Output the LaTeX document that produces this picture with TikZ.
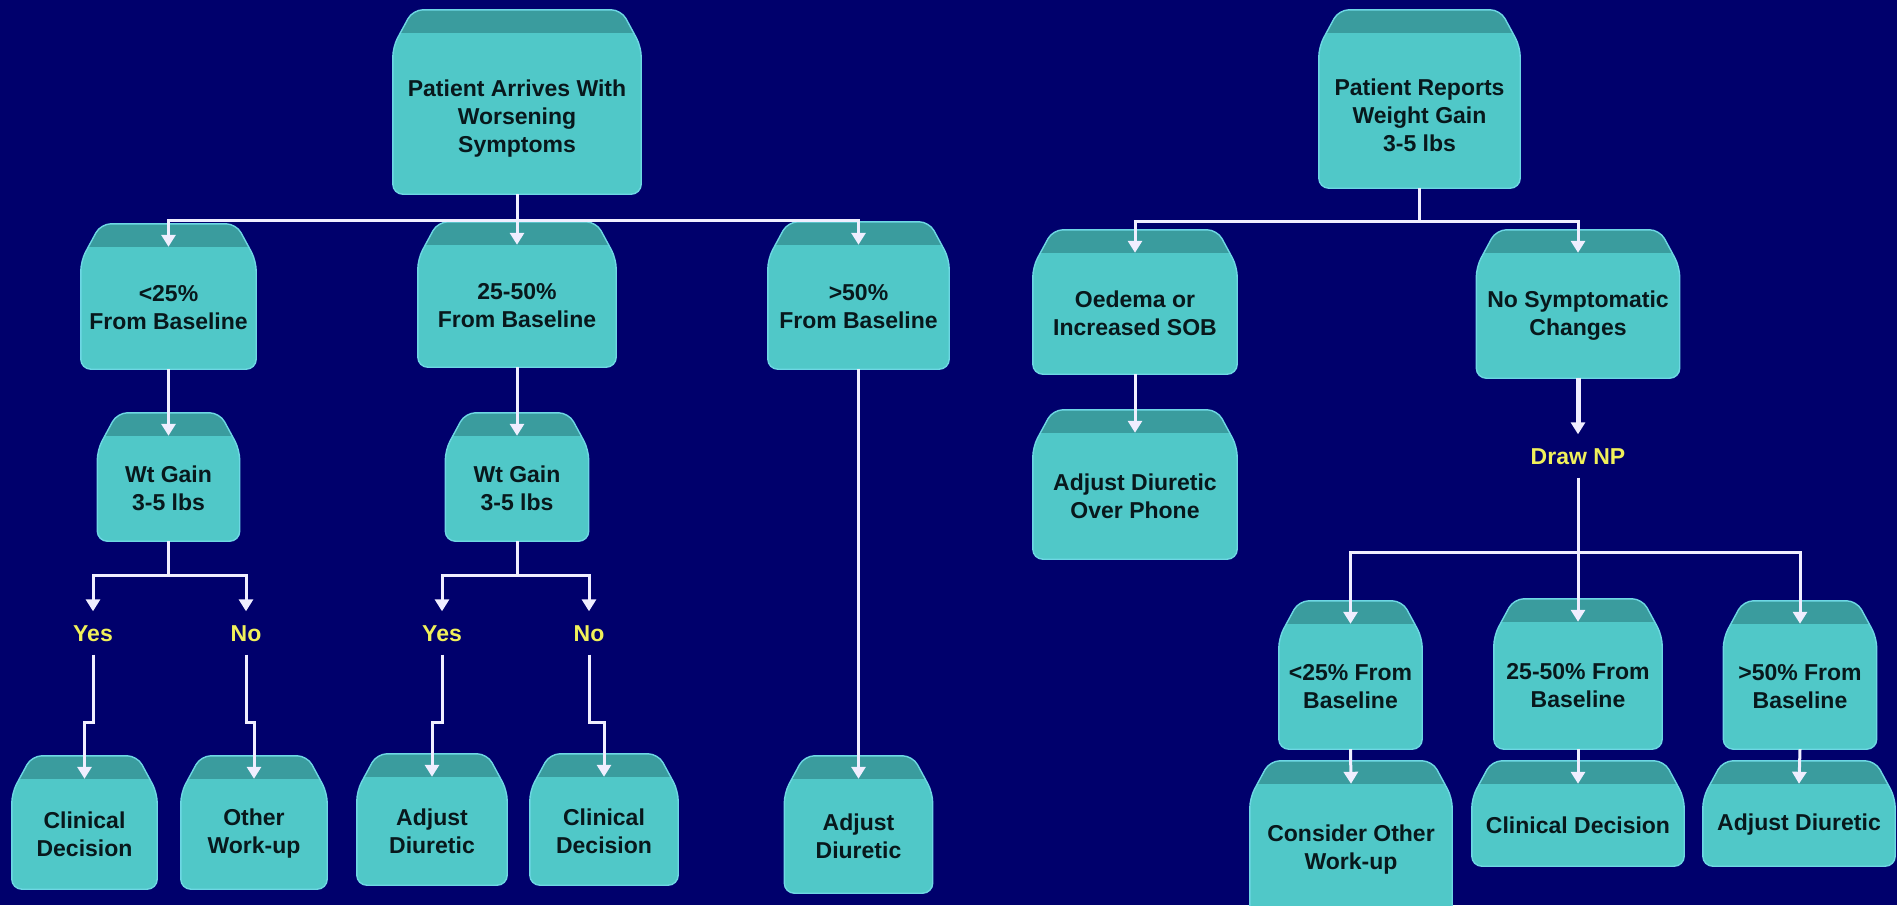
\documentclass[tikz,border=0pt]{standalone}
\usepackage{fontspec}
\setmainfont{Liberation Sans}
\usetikzlibrary{arrows.meta,calc}
\definecolor{bgnavy}{RGB}{0,0,108}
\definecolor{boxfill}{RGB}{80,200,200}
\definecolor{bandcol}{RGB}{58,156,158}
\definecolor{edgecol}{RGB}{110,215,228}
\definecolor{txtdark}{RGB}{8,24,28}
\definecolor{labyellow}{RGB}{240,240,90}
\definecolor{linecol}{RGB}{240,238,255}
\pgfdeclarelayer{bgl}\pgfdeclarelayer{boxl}\pgfsetlayers{bgl,boxl,main}
% #1 = extra space between band bottom and node top, #2 = node name
\newcommand\tealbox[2][0]{%
  \coordinate (#2-a) at ($(#2.north west)+(20pt,23pt+#1pt)$);
  \coordinate (#2-b) at ($(#2.north east)+(-20pt,23pt+#1pt)$);
  \coordinate (#2-c) at ($(#2.north east)+(0pt,#1pt-14pt)$);
  \coordinate (#2-f) at ($(#2.north west)+(0pt,#1pt-14pt)$);
  \fill[boxfill, rounded corners=10pt] (#2-a) -- (#2-b) -- (#2-c) -- (#2.south east) -- (#2.south west) -- (#2-f) -- cycle;
  \begin{scope}
    \clip[rounded corners=10pt] (#2-a) -- (#2-b) -- (#2-c) -- (#2.south east) -- (#2.south west) -- (#2-f) -- cycle;
    \fill[bandcol] ($(#2.north west)+(-5pt,#1pt)$) rectangle ($(#2.north east)+(5pt,30pt+#1pt)$);
  \end{scope}
  \draw[edgecol, line width=1.4pt, rounded corners=10pt] (#2-a) -- (#2-b) -- (#2-c) -- (#2.south east) -- (#2.south west) -- (#2-f) -- cycle;
}
\begin{document}
\begin{tikzpicture}[x=1pt,y=-1pt,
  tbox/.style={inner sep=0pt, align=center, text=txtdark,
    font=\fontsize{23}{28}\selectfont\bfseries},
  lab/.style={text=labyellow, inner xsep=2pt, inner ysep=13pt,
    text height=17pt, text depth=0pt,
    font=\fontsize{23}{28}\selectfont\bfseries},
  ln/.style={draw=linecol, line width=3pt, line join=miter},
  arr/.style={ln, -{Triangle[width=14pt,length=12pt]}}]
\begin{pgfonlayer}{bgl}
\fill[bgnavy] (0,0) rectangle (1897,905);
\end{pgfonlayer}
\useasboundingbox (0,0) rectangle (1897,905);
% left tree
\node[tbox, minimum width=248pt, minimum height=151pt] (root) at (517,118.5) {Patient Arrives With\\Worsening\\Symptoms};
\node[tbox, minimum width=175pt, minimum height=122pt] (L1) at (168.5,308) {<25\%\\From Baseline};
\node[tbox, minimum width=198pt, minimum height=122pt] (M1) at (517,306) {25-50\%\\From Baseline};
\node[tbox, minimum width=181pt, minimum height=124pt] (R1) at (858.5,307) {>50\%\\From Baseline};
\node[tbox, minimum width=142pt, minimum height=105pt] (L2) at (168.5,488.5) {Wt Gain\\3-5 lbs};
\node[tbox, minimum width=143pt, minimum height=105pt] (M2) at (517,488.5) {Wt Gain\\3-5 lbs};
\node[lab] (yes1) at (93,633) {Yes};
\node[lab] (no1) at (246,633) {No};
\node[lab] (yes2) at (442,633) {Yes};
\node[lab] (no2) at (589,633) {No};
\node[tbox, minimum width=145pt, minimum height=110pt] (LL) at (84.5,834) {Clinical\\Decision};
\node[tbox, minimum width=146pt, minimum height=110pt] (LR) at (254,834) {Other\\Work-up};
\node[tbox, minimum width=150pt, minimum height=108pt] (ML) at (432,831) {Adjust\\Diuretic};
\node[tbox, minimum width=148pt, minimum height=108pt] (MR) at (604,831) {Clinical\\Decision};
\node[tbox, minimum width=148pt, minimum height=114pt] (RR) at (858.5,836) {Adjust\\Diuretic};
% right tree
\node[tbox, minimum width=201pt, minimum height=146pt] (root2) at (1419.5,115) {Patient Reports\\Weight Gain\\3-5 lbs};
\node[tbox, minimum width=204pt, minimum height=121pt] (oed) at (1135,313.5) {Oedema or\\Increased SOB};
\node[tbox, minimum width=204pt, minimum height=126pt] (phone) at (1135,496) {Adjust Diuretic\\Over Phone};
\node[tbox, minimum width=203pt, minimum height=125pt] (nosym) at (1578,315.5) {No Symptomatic\\Changes};
\node[lab] (np) at (1578,456) {Draw NP};
\node[tbox, minimum width=143pt, minimum height=125pt] (rA) at (1350.5,686.5) {<25\% From\\Baseline};
\node[tbox, minimum width=168pt, minimum height=127pt] (rB) at (1578,685.5) {25-50\% From\\Baseline};
\node[tbox, minimum width=153pt, minimum height=125pt] (rC) at (1800,686.5) {>50\% From\\Baseline};
\node[tbox, minimum width=202pt, minimum height=131pt] (sA) at (1351,849.5) {Consider Other\\Work-up};
\node[tbox, minimum width=212pt, minimum height=82pt] (sB) at (1578,825) {Clinical Decision};
\node[tbox, minimum width=192pt, minimum height=82pt] (sC) at (1799,825) {Adjust Diuretic};
\begin{pgfonlayer}{boxl}
\tealbox[10]{root}
\tealbox[9]{root2}
\foreach \n in {L1,M1,R1,L2,M2,LL,LR,ML,MR,RR,oed,phone,nosym,rA,rB,rC,sA,sB,sC}{\tealbox{\n}}
\end{pgfonlayer}
% connectors left
\coordinate (busL) at (517,220);
\draw[ln] (root.south) -- (busL);
\draw[arr] (busL) -| (L1.north);
\draw[arr] (busL) -- (M1.north);
\draw[arr] (busL) -| (R1.north);
\draw[arr] (L1.south) -- (L2.north);
\draw[arr] (M1.south) -- (M2.north);
\draw[arr] (L2.south) -- ++(0,34) -| (yes1.north);
\draw[arr] (L2.south) -- ++(0,34) -| (no1.north);
\draw[arr] (M2.south) -- ++(0,34) -| (yes2.north);
\draw[arr] (M2.south) -- ++(0,34) -| (no2.north);
\draw[arr] (yes1.south) -- ++(0,68) -| (LL.north);
\draw[arr] (no1.south) -- ++(0,68) -| (LR.north);
\draw[arr] (yes2.south) -- ++(0,68) -| (ML.north);
\draw[arr] (no2.south) -- ++(0,68) -| (MR.north);
\draw[arr] (R1.south) -- (RR.north);
% connectors right
\coordinate (busR1) at (1419.5,221);
\draw[ln] (root2.south) -- (busR1);
\draw[arr] (busR1) -| (oed.north);
\draw[arr] (busR1) -| (nosym.north);
\draw[arr] (oed.south) -- (phone.north);
\draw[arr, line width=5pt] (nosym.south) -- (np.north);
\coordinate (busR2) at (1578,552);
\draw[arr] (np.south) -- (rB.north);
\draw[arr] (busR2) -| (rA.north);
\draw[arr] (busR2) -| (rC.north);
\draw[arr] (rA.south) -- (sA.north);
\draw[arr] (rB.south) -- (sB.north);
\draw[arr] (rC.south) -- (sC.north);
\end{tikzpicture}
\end{document}
